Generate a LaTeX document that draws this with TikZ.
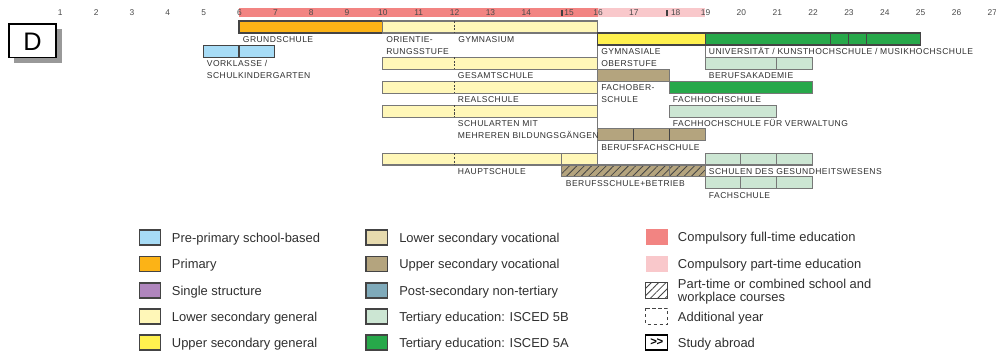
\documentclass[tikz,border=0pt]{standalone}
\usepackage{fontspec}
\setmainfont{Liberation Sans}
\newfontfamily\lblfont[LetterSpace=5]{Liberation Sans}
\usetikzlibrary{patterns.meta}
\definecolor{cPre}{HTML}{A7DCF6}
\definecolor{cPrim}{HTML}{FCB316}
\definecolor{cSingle}{HTML}{B086BE}
\definecolor{cLowGen}{HTML}{FFF7B8}
\definecolor{cUpGen}{HTML}{FFF14F}
\definecolor{cLowVoc}{HTML}{E6DAAE}
\definecolor{cUpVoc}{HTML}{B4A47E}
\definecolor{cPost}{HTML}{7FAABA}
\definecolor{cTerB}{HTML}{CCE6D3}
\definecolor{cTerA}{HTML}{27A84A}
\definecolor{cFull}{HTML}{F28482}
\definecolor{cPart}{HTML}{F9C8CB}
\definecolor{cEdge}{HTML}{444444}
\definecolor{cEdgeL}{HTML}{777777}
\definecolor{cText}{HTML}{2F2F2F}
\definecolor{cNum}{HTML}{4A4A4A}
\begin{document}
\begin{tikzpicture}[x=0.75pt,y=-0.75pt,
  declare function={A(\a)=239+(\a-6)*35.85;},
  bar/.style={draw=cEdge,line width=0.8pt},
  barl/.style={draw=cEdgeL,line width=0.8pt},
  dashdiv/.style={draw=cEdge,line width=0.6pt,dash pattern=on 1.5pt off 1.2pt},
  lbl/.style={font=\lblfont\fontsize{6.4}{7}\selectfont,text=cText,inner sep=0pt,anchor=base west},
  num/.style={font=\fontsize{6.3}{7}\selectfont,text=cNum,inner sep=0pt},
  leg/.style={font=\fontsize{9.7}{11}\selectfont,text=cText,inner sep=0pt,anchor=base west},
  legbox/.style={draw=cEdge,line width=0.8pt},
  hatch/.style={pattern={Lines[angle=45,distance=3.9pt,line width=0.6pt]},pattern color=cEdge}]
\useasboundingbox (0,0) rectangle (996,353);

% ---- D box ----
\fill[black!40] (14,29) rectangle (61.7,63.3);
\draw[fill=white,line width=1.1pt] (9,24) rectangle (56,57.7);
\node[font=\fontsize{19}{20}\selectfont,inner sep=0pt] (dlabel) at (32.5,42) {D};

% ---- age axis ----
\fill[cFull] ({A(6)},8.3) rectangle ({A(16)},16.7);
\fill[cPart] ({A(16)},8.3) rectangle ({A(19)},16.7);
\foreach \n in {1,...,14,16,17,19,20,...,27}
  \node[num] (t\n) at ({A(\n)+0.5},13) {\n};
\node[num] (t15) at ({A(15)+7.5},13) {15};
\node[num] (t18) at ({A(18)+6.5},13) {18};
\fill[black!75] (561,9.8) rectangle (562.7,15.6);
\fill[black!75] (666,9.8) rectangle (667.7,15.6);

% ---- separator lines ----
\draw[cEdgeL,line width=0.8pt] ({A(16)},33) -- ({A(16)},165);
\draw[cEdgeL,line width=0.8pt] ({A(19)},45) -- ({A(19)},57);

% ---- row 1 ----
\draw[bar,fill=cPrim] ({A(6)},21) rectangle ({A(10)},33);
\draw[barl,fill=cLowGen] ({A(10)},21) rectangle ({A(16)},33);
\draw[dashdiv] ({A(12)},21) -- ({A(12)},33);

% ---- row 2 ----
\draw[bar,fill=cUpGen] ({A(16)},33) rectangle ({A(19)},45);
\draw[bar,fill=cTerA] ({A(19)},33) rectangle ({A(25)},45);
\foreach \d in {22.5,23,23.5} \draw[bar] ({A(\d)},33) -- ({A(\d)},45);

% ---- Vorklasse ----
\draw[bar,fill=cPre] ({A(5)},45.3) rectangle ({A(7)},57.3);
\draw[bar] ({A(6)},45.3) -- ({A(6)},57.3);

% ---- lower secondary bars ----
\foreach \ya/\yb in {57.3/69.3,81.3/93.3,105.3/117.3,153.3/165}{
  \draw[barl,fill=cLowGen] ({A(10)},\ya) rectangle ({A(16)},\yb);
  \draw[dashdiv] ({A(12)},\ya) -- ({A(12)},\yb);
}
\draw[barl] ({A(15)},153.3) -- ({A(15)},165);

% ---- Berufsakademie ----
\draw[barl,fill=cTerB] ({A(19)},57.3) rectangle ({A(22)},69.3);
\draw[barl] ({A(21)},57.3) -- ({A(21)},69.3);

% ---- Fachoberschule ----
\draw[barl,fill=cUpVoc] ({A(16)},69.3) rectangle ({A(18)},81.3);

% ---- Fachhochschule ----
\draw[barl,fill=cTerA] ({A(18)},81.3) rectangle ({A(22)},93.3);

% ---- FH Verwaltung ----
\draw[barl,fill=cTerB] ({A(18)},105.3) rectangle ({A(21)},117.3);

% ---- Berufsfachschule ----
\draw[barl,fill=cUpVoc] ({A(16)},128.7) rectangle ({A(19)},140.7);
\foreach \d in {17,18} \draw[bar] ({A(\d)},128.7) -- ({A(\d)},140.7);

% ---- Schulen des Gesundheitswesens ----
\draw[barl,fill=cTerB] ({A(19)},153.3) rectangle ({A(22)},165);
\foreach \d in {20,21} \draw[barl] ({A(\d)},153.3) -- ({A(\d)},165);

% ---- Berufsschule + Betrieb ----
\path[fill=cUpVoc,postaction={hatch}] ({A(15)},165) rectangle ({A(19)},176.7);
\draw[barl] ({A(15)},165) rectangle ({A(19)},176.7);
\draw[barl] ({A(18)},165) -- ({A(18)},176.7);

% ---- Fachschule ----
\draw[barl,fill=cTerB] ({A(19)},176.7) rectangle ({A(22)},188.3);
\foreach \d in {20,21} \draw[barl] ({A(\d)},176.7) -- ({A(\d)},188.3);

% ---- labels ----
\node[lbl] (lGrund) at (242.7,42.7) {GRUNDSCHULE};
\node[lbl] (lOri1) at (386,42.7) {ORIENTIE-};
\node[lbl] (lOri2) at (386,54.2) {RUNGSSTUFE};
\node[lbl] (lGym) at (458,42.7) {GYMNASIUM};
\node[lbl] (lVor1) at (206.7,67) {VORKLASSE /};
\node[lbl] (lVor2) at (206.7,78.5) {SCHULKINDERGARTEN};
\node[lbl] (lGes) at (457.7,79) {GESAMTSCHULE};
\node[lbl] (lReal) at (457.7,103) {REALSCHULE};
\node[lbl] (lSch1) at (457.7,127) {SCHULARTEN MIT};
\node[lbl] (lSch2) at (457.7,138.5) {MEHREREN BILDUNGSGÄNGEN};
\node[lbl] (lHaupt) at (457.7,174.7) {HAUPTSCHULE};
\node[lbl] (lBsB) at (565.7,186.4) {BERUFSSCHULE+BETRIEB};
\node[lbl] (lGyO1) at (601,54.7) {GYMNASIALE};
\node[lbl] (lGyO2) at (601,66.2) {OBERSTUFE};
\node[lbl] (lUni) at (708.7,54.7) {UNIVERSITÄT / KUNSTHOCHSCHULE / MUSIKHOCHSCHULE};
\node[lbl] (lBA) at (708.7,79) {BERUFSAKADEMIE};
\node[lbl] (lFOS1) at (601,91) {FACHOBER-};
\node[lbl] (lFOS2) at (601,102.5) {SCHULE};
\node[lbl] (lFH) at (672.7,103) {FACHHOCHSCHULE};
\node[lbl] (lFHV) at (672.7,127) {FACHHOCHSCHULE FÜR VERWALTUNG};
\node[lbl] (lBFS) at (601,150.4) {BERUFSFACHSCHULE};
\node[lbl] (lGes2) at (708.7,174.7) {SCHULEN DES GESUNDHEITSWESENS};
\node[lbl] (lFS) at (708.7,198) {FACHSCHULE};

% ---- legend column 1 ----
\foreach \t/\c/\y [count=\i] in {Pre-primary school-based/cPre/230,Primary/cPrim/256.5,Single structure/cSingle/283,Lower secondary general/cLowGen/309,Upper secondary general/cUpGen/335}{
  \draw[legbox,fill=\c] (139.5,\y) rectangle (160.5,\y+15);
  \node[leg] (la\i) at (171.7,\y+12) {\t};
}
% ---- legend column 2 ----
\foreach \t/\c/\y [count=\i] in {Lower secondary vocational/cLowVoc/230,Upper secondary vocational/cUpVoc/256.5,Post-secondary non-tertiary/cPost/283,Tertiary education: ISCED 5B/cTerB/309,Tertiary education: ISCED 5A/cTerA/335}{
  \draw[legbox,fill=\c] (366,\y) rectangle (387.3,\y+15);
  \node[leg] (lb\i) at (399,\y+12) {\t};
}
% ---- legend column 3 ----
\fill[cFull] (645.7,229.3) rectangle (667.7,245);
\node[leg] (lc1) at (677.7,241.5) {Compulsory full-time education};
\fill[cPart] (645.7,255.7) rectangle (667.7,271.7);
\node[leg] (lc2) at (677.7,268) {Compulsory part-time education};
\path[fill=white,postaction={hatch}] (645.7,282.7) rectangle (667.7,298.3);
\draw[legbox] (645.7,282.7) rectangle (667.7,298.3);
\node[leg] (lc3a) at (677.7,288) {Part-time or combined school and};
\node[leg] (lc3b) at (677.7,301.5) {workplace courses};
\draw[draw=cEdge,line width=0.7pt,dash pattern=on 2.5pt off 2pt] (645.7,308) rectangle (667.7,324);
\node[leg] (lc4) at (677.7,321.5) {Additional year};
\draw[draw=black,line width=1.1pt,fill=white] (645.7,335) rectangle (667.7,350);
\node[font=\bfseries\fontsize{8.5}{9}\selectfont,inner sep=0pt] (abroad) at (656.7,342.5) {>\kern-0.3pt{}>};
\node[leg] (lc5) at (677.7,347) {Study abroad};
\end{tikzpicture}
\end{document}
